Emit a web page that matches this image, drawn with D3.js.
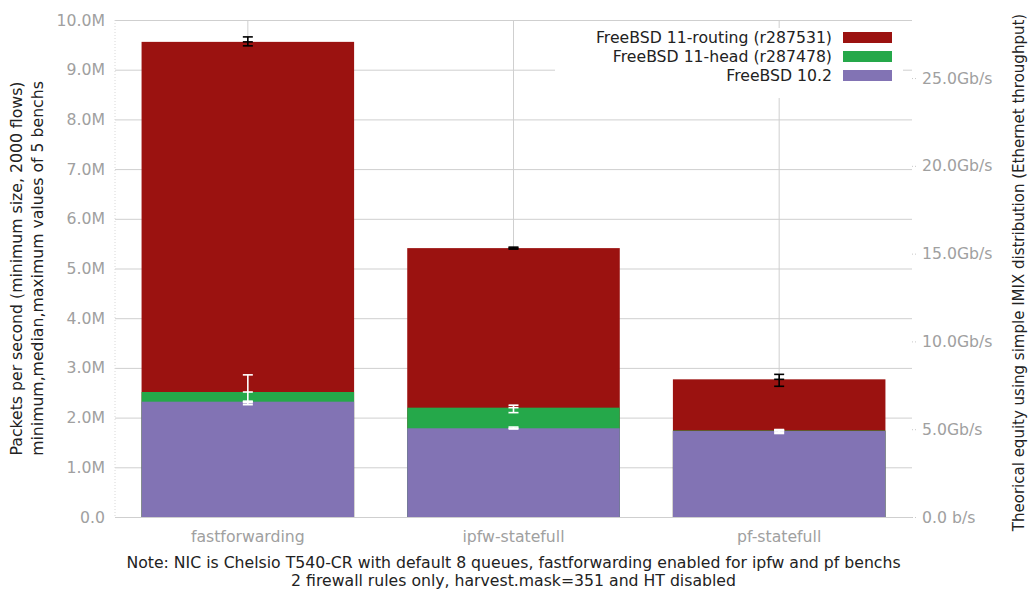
<!DOCTYPE html>
<html>
<head>
<meta charset="utf-8">
<script src="https://cdn.jsdelivr.net/npm/d3@7"></script>
<style>
  body { margin: 0; background: #fff; }
  text { font-family: "DejaVu Sans", sans-serif; }
</style>
</head>
<body>
<svg id="chart" width="1028" height="595"></svg>
<script>
// benchmark results, in packets per second (millions)
const categories = ["fastforwarding", "ipfw-statefull", "pf-statefull"];
const seriesNames = ["FreeBSD 11-routing (r287531)", "FreeBSD 11-head (r287478)", "FreeBSD 10.2"];
const seriesColors = ["#9b1210", "#25a84a", "#8273b4"];
const errorColors = ["#000", "#fff", "#fff"];

const routingMedian = [9.56, 5.41, 2.77];
const routingMin = [9.48, 5.39, 2.63];
const routingMax = [9.66, 5.43, 2.87];

const headMedian = [2.515, 2.20, 1.74];
const headMin = [2.30, 2.10, 1.70];
const headMax = [2.86, 2.25, 1.76];

const bsd102Median = [2.32, 1.785, 1.73];
const bsd102Min = [2.26, 1.77, 1.68];
const bsd102Max = [2.33, 1.81, 1.75];

const leftTicks = [0, 1, 2, 3, 4, 5, 6, 7, 8, 9, 10];
const rightTicks = [0, 5, 10, 15, 20, 25];
const imixBytes = 353.83; // simple IMIX mean packet size

const notes = [
    "Note: NIC is Chelsio T540-CR with default 8 queues, fastforwarding enabled for ipfw and pf benchs",
    "2 firewall rules only, harvest.mask=351 and HT disabled"
];

const series = [
    { med: routingMedian, min: routingMin, max: routingMax },
    { med: headMedian, min: headMin, max: headMax },
    { med: bsd102Median, min: bsd102Min, max: bsd102Max }
];

const plotLeft = 115, plotRight = 912, plotTop = 20, plotBottom = 517;
const fontSize = "15.7px";
const svg = d3.select("#chart");

const x = d3.scaleBand()
    .domain(categories)
    .range([plotLeft, plotRight])
    .paddingInner(0.2)
    .paddingOuter(0.1);

const y = d3.scaleLinear().domain([0, 10]).range([plotBottom, plotTop]);
const yRight = d3.scaleLinear()
    .domain([0, 10 * 1e6 * imixBytes * 8 / 1e9])
    .range([plotBottom, plotTop]);

// horizontal grid + left labels
const gLeft = svg.append("g")
    .attr("transform", `translate(${plotLeft},0)`)
    .call(d3.axisLeft(y)
        .tickValues(leftTicks)
        .tickSize(-(plotRight - plotLeft))
        .tickPadding(10)
        .tickFormat(d => d === 0 ? "0.0" : d.toFixed(1) + "M"));
gLeft.select(".domain").remove();
gLeft.selectAll("line").attr("stroke", "#cfcfcf");
gLeft.selectAll("text").attr("fill", "#a0a0a0").style("font-size", fontSize);

svg.append("line")
    .attr("x1", plotLeft).attr("x2", plotLeft)
    .attr("y1", plotTop).attr("y2", plotBottom)
    .attr("stroke", "#d8d8d8")
    .attr("stroke-dasharray", "1,2");

// vertical grid + category labels
const gBottom = svg.append("g")
    .attr("transform", `translate(0,${plotBottom})`)
    .call(d3.axisBottom(x).tickSize(-(plotBottom - plotTop)).tickPadding(14));
gBottom.select(".domain").remove();
gBottom.selectAll("line").attr("stroke", "#cfcfcf");
gBottom.selectAll("text").attr("fill", "#a0a0a0").style("font-size", fontSize);

// right axis (throughput)
const gRight = svg.append("g")
    .attr("transform", `translate(${plotRight},0)`)
    .call(d3.axisRight(yRight)
        .tickValues(rightTicks)
        .tickSize(6)
        .tickPadding(4)
        .tickFormat(d => d === 0 ? "0.0 b/s" : d.toFixed(1) + "Gb/s"));
gRight.select(".domain").remove();
gRight.selectAll("line").attr("stroke", "#c8c8c8").attr("stroke-dasharray", "1,2");
gRight.selectAll("text").attr("fill", "#a0a0a0").style("font-size", fontSize);

// bars, back to front
series.forEach((s, i) => {
    svg.append("g")
        .selectAll("rect")
        .data(categories)
        .enter().append("rect")
        .attr("x", d => x(d))
        .attr("width", x.bandwidth())
        .attr("y", (d, j) => y(s.med[j]))
        .attr("height", (d, j) => plotBottom - y(s.med[j]))
        .attr("fill", seriesColors[i]);
});

// legend
const legend = svg.append("g");
legend.append("rect")
    .attr("x", 555).attr("y", 28)
    .attr("width", 348).attr("height", 70)
    .attr("fill", "#fff");
seriesNames.forEach((name, i) => {
    legend.append("rect")
        .attr("x", 843).attr("y", 32 + i * 19)
        .attr("width", 49).attr("height", 11)
        .attr("fill", seriesColors[i]);
    legend.append("text")
        .attr("x", 832).attr("y", 37.5 + i * 19)
        .attr("dy", "0.35em")
        .attr("text-anchor", "end")
        .attr("fill", "#222")
        .style("font-size", fontSize)
        .text(name);
});

// min / median / max markers
series.forEach((s, i) => {
    const g = svg.append("g")
        .attr("stroke", errorColors[i])
        .attr("stroke-width", 1.6);
    categories.forEach((c, j) => {
        const cx = x(c) + x.bandwidth() / 2;
        g.append("line")
            .attr("x1", cx).attr("x2", cx)
            .attr("y1", y(s.min[j])).attr("y2", y(s.max[j]));
        [s.min[j], s.med[j], s.max[j]].forEach(v => {
            g.append("line")
                .attr("x1", cx - 5).attr("x2", cx + 5)
                .attr("y1", y(v)).attr("y2", y(v));
        });
    });
});

// axis titles
const midY = (plotTop + plotBottom) / 2;
svg.append("text")
    .attr("transform", `translate(16,${midY}) rotate(-90)`)
    .attr("text-anchor", "middle").attr("dy", "0.35em")
    .attr("fill", "#222").style("font-size", fontSize)
    .text("Packets per second (minimum size, 2000 flows)");
svg.append("text")
    .attr("transform", `translate(37,${midY}) rotate(-90)`)
    .attr("text-anchor", "middle").attr("dy", "0.35em")
    .attr("fill", "#222").style("font-size", fontSize)
    .text("minimum,median,maximum values of 5 benchs");
svg.append("text")
    .attr("transform", `translate(1019,${midY + 4}) rotate(-90)`)
    .attr("text-anchor", "middle").attr("dy", "0.35em")
    .attr("fill", "#222").style("font-size", "15px")
    .text("Theorical equity using simple IMIX distribution (Ethernet throughput)");

// footnote
notes.forEach((t, i) => {
    svg.append("text")
        .attr("x", (plotLeft + plotRight) / 2)
        .attr("y", 563 + i * 18)
        .attr("dy", "0.35em")
        .attr("text-anchor", "middle")
        .attr("fill", "#222")
        .style("font-size", fontSize)
        .text(t);
});
</script>
</body>
</html>
